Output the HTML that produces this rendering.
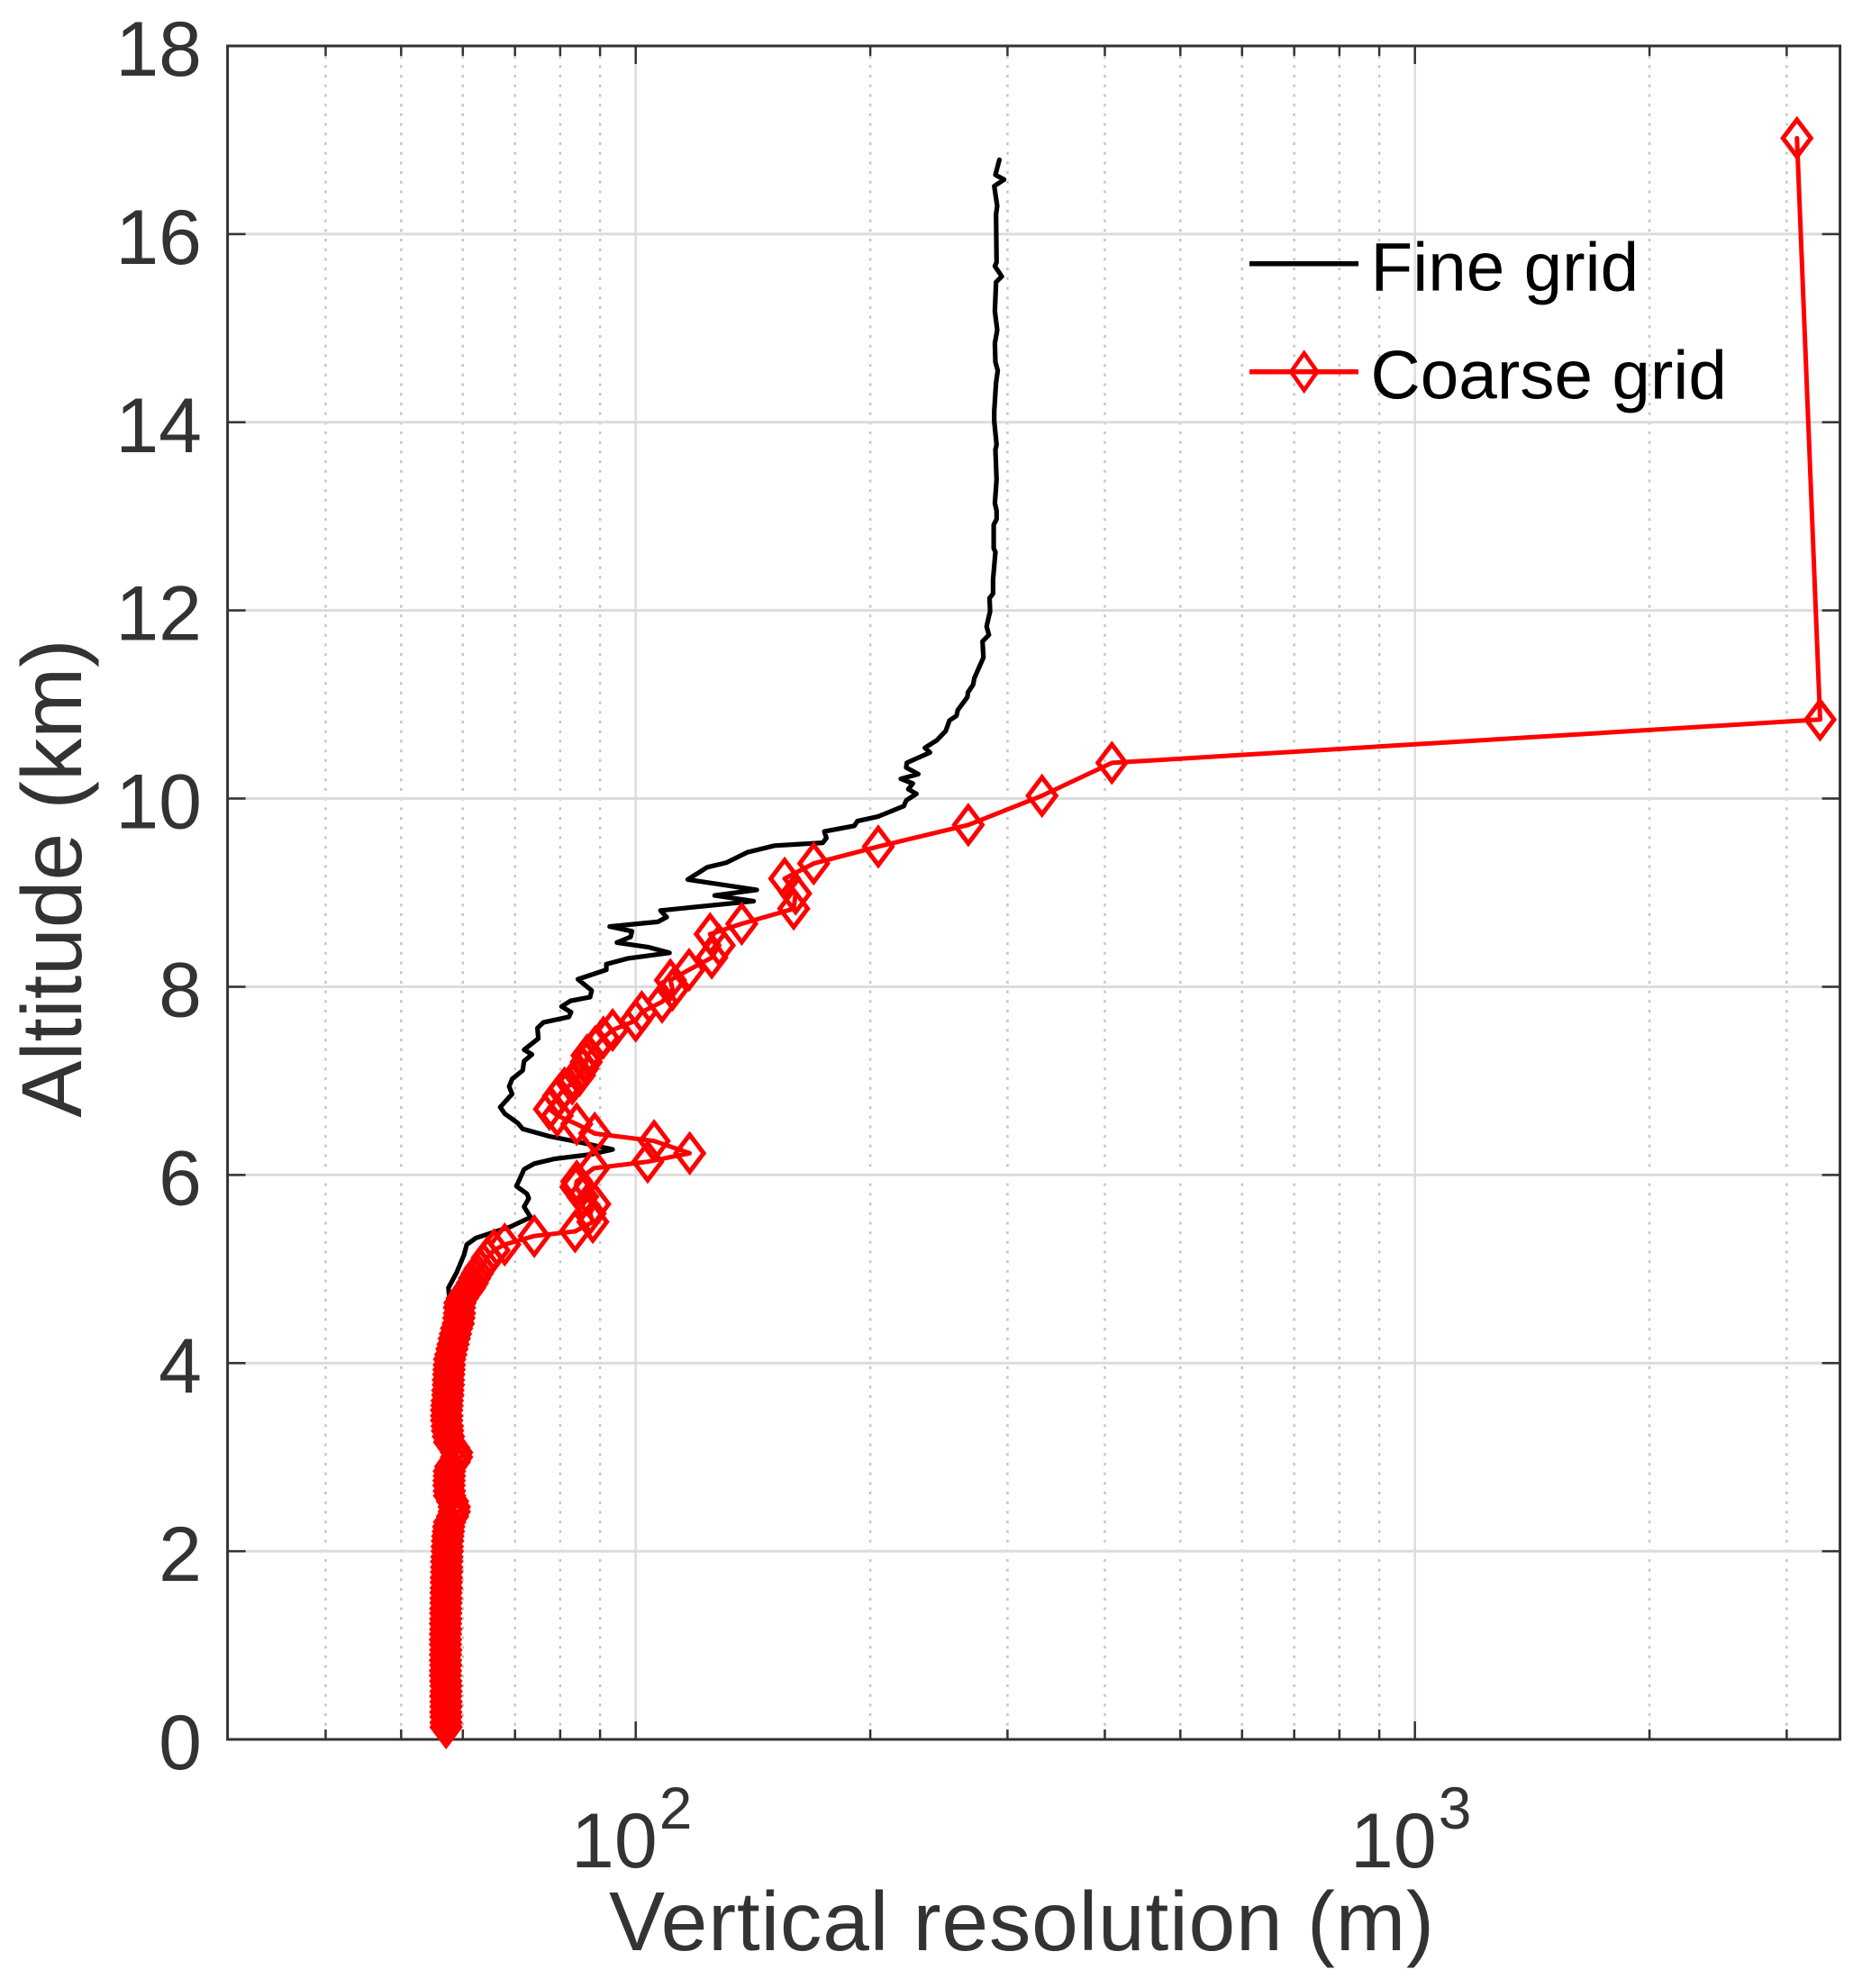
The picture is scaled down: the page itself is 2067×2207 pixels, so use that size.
<!DOCTYPE html>
<html lang="en">
<head>
<meta charset="utf-8">
<title>Vertical resolution vs altitude</title>
<style>
html,body{margin:0;padding:0;background:#fff;}
svg{display:block;font-family:"Liberation Sans",Arial,sans-serif;}
</style>
</head>
<body>
<svg id="chart" xmlns="http://www.w3.org/2000/svg" width="2067" height="2207" viewBox="0 0 2067 2207">
  <rect x="0" y="0" width="2067" height="2207" fill="#ffffff"/>
  <g id="grid"></g>
  <g id="axes"></g>
  <g id="labels"></g>
  <g id="series"></g>
  <text x="676" y="2165" font-size="93" fill="#333333" textLength="916" lengthAdjust="spacing">Vertical resolution (m)</text>
  <text transform="translate(90,975) rotate(-90)" text-anchor="middle" font-size="94.7" fill="#333333">Altitude (km)</text>
  <g>
    <line x1="1387" y1="292.7" x2="1508" y2="292.7" stroke="#000000" stroke-width="5.5"/>
    <text x="1521.5" y="322.7" font-size="76.5" fill="#000000">Fine grid</text>
    <line x1="1387" y1="412.7" x2="1508" y2="412.7" stroke="#ff0000" stroke-width="5.5"/>
    <polygon points="1447.7,392.2 1462.2,412.7 1447.7,433.2 1433.2,412.7" fill="none" stroke="#ff0000" stroke-width="4.6"/>
    <text x="1521.5" y="442.7" font-size="76.5" fill="#000000">Coarse grid</text>
  </g>
</svg>
<script>
const xMajorTicks = [100, 1000];
const xMinorTicks = [40, 50, 60, 70, 80, 90, 200, 300, 400, 500, 600, 700, 800, 900, 2000, 3000];
const xTickExponents = ["2", "3"];
const yTicks = [0, 2, 4, 6, 8, 10, 12, 14, 16, 18];

const fineAltitude = [16.79,16.63,16.58,16.51,16.30,16.21,15.70,15.66,15.55,15.49,15.18,14.98,14.84,14.64,14.55,14.42,14.12,14.01,13.76,13.71,13.39,13.14,13.06,12.97,12.91,12.66,12.62,12.33,12.18,12.13,11.99,11.83,11.74,11.67,11.50,11.28,11.21,11.13,11.08,10.94,10.88,10.83,10.72,10.62,10.54,10.49,10.38,10.33,10.26,10.21,10.16,10.10,10.05,9.98,9.92,9.81,9.76,9.71,9.65,9.58,9.53,9.50,9.43,9.32,9.27,9.14,9.03,8.97,8.91,8.81,8.74,8.69,8.64,8.59,8.53,8.47,8.42,8.36,8.30,8.24,8.18,8.08,7.96,7.89,7.85,7.79,7.73,7.68,7.62,7.56,7.45,7.33,7.28,7.21,7.11,7.02,6.94,6.86,6.72,6.65,6.55,6.49,6.41,6.34,6.27,6.22,6.17,6.12,6.06,5.88,5.80,5.75,5.66,5.55,5.45,5.33,5.26,5.15,4.96,4.80,4.60,4.20,3.60,3.00,2.00,1.00,0.13];
const fineResolution = [292.9,289.5,297,288.5,291,290,290.5,289,295,290,289,291,289,289.5,291.5,290,288.5,288.5,290.5,289.5,290.5,289,290.5,290.5,288,288,289.5,287.5,287.5,284.5,285,282,284,278.7,279.4,272,271,267,266.5,259,258,252.7,250,243.5,235,238.6,222.8,222.4,230.5,218.9,226.8,223.8,229.2,222.4,220.8,204.8,192.5,190.8,174.6,175.7,173.8,150.7,139.2,130.8,123.5,116.6,143,126.3,141.7,107.6,109.6,106.7,92.6,98.9,98.5,94.6,103.9,110.5,97.6,91.7,91.7,84.3,87.8,87.4,82.5,80.3,82.6,82.1,76.1,74.8,75,71.9,73.6,71.9,71.6,69.4,68.8,69.4,67,67.9,70.6,71.6,77.5,85.5,93.4,87.8,78.6,74.1,71.9,70.3,72.5,72.9,71.9,73.3,69.1,62.4,60.7,60.2,58.9,57.5,57.8,57.5,57.2,57.5,57.2,57.0,57.1];

const coarseAltitude = [0.13,0.18,0.24,0.29,0.35,0.40,0.46,0.51,0.57,0.62,0.68,0.73,0.79,0.84,0.90,0.95,1.01,1.06,1.12,1.17,1.23,1.28,1.34,1.39,1.45,1.50,1.56,1.61,1.67,1.72,1.78,1.83,1.89,1.94,2.00,2.05,2.11,2.16,2.21,2.26,2.31,2.37,2.42,2.47,2.53,2.59,2.64,2.70,2.75,2.80,2.85,2.90,2.95,3.00,3.05,3.10,3.16,3.22,3.28,3.33,3.39,3.44,3.50,3.55,3.60,3.66,3.71,3.77,3.82,3.88,3.93,3.98,4.04,4.09,4.15,4.20,4.26,4.31,4.37,4.42,4.48,4.53,4.59,4.64,4.69,4.75,4.80,4.85,4.90,4.95,5.00,5.05,5.12,5.20,5.26,5.35,5.40,5.50,5.59,5.69,5.77,5.87,5.93,6.07,6.14,6.23,6.36,6.44,6.54,6.63,6.70,6.84,6.92,6.97,7.06,7.13,7.20,7.27,7.36,7.46,7.54,7.64,7.73,7.84,7.97,8.07,8.18,8.31,8.44,8.56,8.67,8.83,8.99,9.15,9.31,9.49,9.72,10.03,10.38,10.84,17.02];
const coarseResolution = [57.1,57.1,57.1,57.05,57.1,57.1,57.05,57.1,57.1,57.05,57.0,57.0,57.05,57.0,57.0,57.05,57.0,57.0,57.0,57.05,57.0,57.05,57.05,57.05,57.1,57.1,57.1,57.15,57.15,57.15,57.2,57.2,57.2,57.25,57.3,57.3,57.35,57.4,57.5,57.55,57.7,58.2,58.5,58.5,58.2,57.7,57.65,57.6,57.6,57.65,57.65,57.9,58.5,58.9,58.9,58.4,57.7,57.5,57.35,57.3,57.2,57.2,57.2,57.25,57.3,57.4,57.4,57.5,57.5,57.55,57.6,57.65,57.7,57.9,58.1,58.3,58.5,58.7,58.9,59.2,59.3,59.4,59.4,59.5,59.9,60.6,61.2,61.7,62.1,62.6,63.1,63.8,64.5,65.8,67.9,74.1,83.6,88.1,87.4,88.6,85.5,83.8,84,88.3,103.6,117.3,105.6,88.6,84,79.3,77.5,79.6,81,82.9,84.7,85.5,86.4,86.6,88.7,90.9,93.4,100,101.8,108.1,111.5,110.8,117.1,125.2,128,124.6,136.8,159.5,160.4,155.3,169.2,204.8,267.2,332.2,408.4,3311,3092];

const plotLeft = 252.6, plotRight = 2042.6, plotTop = 51, plotBottom = 1931;
const decadeWidth = 865, x100 = 705.7;
const kmHeight = (plotBottom - plotTop) / 18;
const SVGNS = "http://www.w3.org/2000/svg";

function xScale(v) { return x100 + (Math.log10(v) - 2) * decadeWidth; }
function yScale(v) { return plotBottom - v * kmHeight; }
function make(tag, attrs, parent) {
  const el = document.createElementNS(SVGNS, tag);
  for (const k in attrs) el.setAttribute(k, attrs[k]);
  parent.appendChild(el);
  return el;
}

const grid = document.getElementById("grid");
const axes = document.getElementById("axes");
const labels = document.getElementById("labels");
const series = document.getElementById("series");

xMinorTicks.forEach(function (t) {
  const x = xScale(t);
  const g = make("line", {x1: x, x2: x, y1: plotTop, y2: plotBottom, stroke: "#c4c4c4", "stroke-width": 2.5, "stroke-dasharray": "3 7.7"}, grid);
  
  
  [[plotBottom, plotBottom - 11], [plotTop, plotTop + 11]].forEach(function (p) {
    const m = make("line", {x1: x, x2: x, y1: p[0], y2: p[1], stroke: "#333333", "stroke-width": 2.5}, axes);
    
    
  });
});

xMajorTicks.forEach(function (t, i) {
  const x = xScale(t);
  const g = make("line", {x1: x, x2: x, y1: plotTop, y2: plotBottom, stroke: "#dcdcdc", "stroke-width": 2.5}, grid);
  
  
  [[plotBottom, plotBottom - 20], [plotTop, plotTop + 20]].forEach(function (p) {
    const m = make("line", {x1: x, x2: x, y1: p[0], y2: p[1], stroke: "#333333", "stroke-width": 2.5}, axes);
    
    
  });
  const base = make("text", {x: x - 71.7, y: 2073, "font-size": 86, fill: "#333333"}, labels);
  base.textContent = "10";
  
  
  const exp = make("text", {x: x + 26, y: 2030, "font-size": 66, fill: "#333333"}, labels);
  exp.textContent = xTickExponents[i];
  
  
});

yTicks.forEach(function (t) {
  const y = yScale(t);
  if (t > 0 && t < 18) {
    const g = make("line", {x1: plotLeft, x2: plotRight, y1: y, y2: y, stroke: "#dcdcdc", "stroke-width": 3}, grid);
    
    
  }
  [[plotLeft, plotLeft + 20], [plotRight, plotRight - 20]].forEach(function (p) {
    const m = make("line", {x1: p[0], x2: p[1], y1: y, y2: y, stroke: "#333333", "stroke-width": 2.5}, axes);
    
    
  });
  const lab = make("text", {x: 224, y: y + 33, "font-size": 86, fill: "#333333", "text-anchor": "end"}, labels);
  lab.textContent = String(t);
  
  
});

const box = make("rect", {x: plotLeft, y: plotTop, width: plotRight - plotLeft, height: plotBottom - plotTop, fill: "none", stroke: "#333333", "stroke-width": 3}, axes);



function pointString(vals, alts) {
  return vals.map(function (v, i) { return xScale(v).toFixed(1) + "," + yScale(alts[i]).toFixed(1); }).join(" ");
}

const fineLine = make("polyline", {points: pointString(fineResolution, fineAltitude), fill: "none", stroke: "#000000", "stroke-width": 5.2, "stroke-linejoin": "round", "stroke-linecap": "round"}, series);



const coarseLine = make("polyline", {points: pointString(coarseResolution, coarseAltitude), fill: "none", stroke: "#ff0000", "stroke-width": 5, "stroke-linejoin": "round", "stroke-linecap": "round"}, series);



coarseResolution.forEach(function (v, i) {
  const cx = xScale(v), cy = yScale(coarseAltitude[i]);
  const hw = 15.5, hh = 20.5;
  const d = make("polygon", {points: cx + "," + (cy - hh) + " " + (cx + hw) + "," + cy + " " + cx + "," + (cy + hh) + " " + (cx - hw) + "," + cy, fill: "none", stroke: "#ff0000", "stroke-width": 5}, series);
  
  
});
</script>
</body>
</html>
